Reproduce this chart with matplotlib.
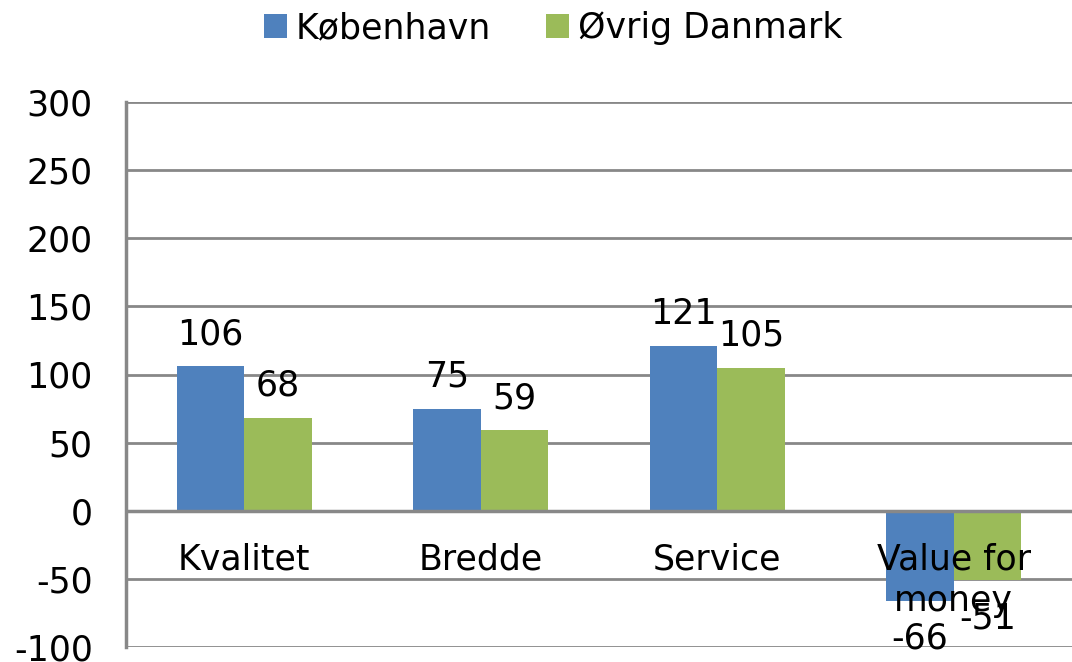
import numpy as np
import matplotlib.pyplot as plt
from matplotlib.ticker import FuncFormatter

categories = ["Kvalitet", "Bredde", "Service", "Value for\nmoney"]
kbh = [106, 75, 121, -66]
ovrig = [68, 59, 105, -51]
series_names = ["København", "Øvrig Danmark"]
colors = ["#4F81BD", "#9BBB59"]

plt.rcParams['font.family'] = ['DejaVu Sans']
fs = 25
fig = plt.figure(figsize=(10.72, 6.62), dpi=100)
ax = fig.add_axes([126 / 1072, 15 / 662, 946 / 1072, 545 / 662])

x = np.arange(len(categories))
w = 0.285
b1 = ax.bar(x - w / 2, kbh, w, color=colors[0], label=series_names[0], zorder=3)
b2 = ax.bar(x + w / 2, ovrig, w, color=colors[1], label=series_names[1], zorder=3)

for bars, vals in [(b1, kbh), (b2, ovrig)]:
    for rect, v in zip(bars, vals):
        cx = rect.get_x() + rect.get_width() / 2
        if v >= 0:
            ax.annotate(str(v), (cx, v), xytext=(0, 11), textcoords='offset points',
                        ha='center', va='bottom', fontsize=fs, zorder=5)
        else:
            ax.annotate(str(v), (cx, v), xytext=(0, -15), textcoords='offset points',
                        ha='center', va='top', fontsize=fs, zorder=5)

# category labels sit just below the zero line
for xi, c in zip(x, categories):
    ax.text(xi, -23, c, ha='center', va='top', fontsize=fs, linespacing=1.3, zorder=5)

ax.set_xlim(-0.5, len(categories) - 0.5)
ax.set_ylim(-100, 300)
ax.set_yticks(range(-100, 301, 50))
ax.yaxis.set_major_formatter(FuncFormatter(lambda v, p: "%d" % v))
ax.tick_params(axis='y', labelsize=fs, length=0, pad=24)
ax.set_xticks([])
ax.grid(axis='y', color='#888888', linewidth=2, zorder=0)
ax.axhline(0, color='#888888', linewidth=2.5, zorder=4)
for s in ['top', 'right', 'bottom']:
    ax.spines[s].set_visible(False)
ax.spines['left'].set_color('#888888')
ax.spines['left'].set_linewidth(2.5)

fig.legend(handles=[b1, b2], loc='upper center', bbox_to_anchor=(0.516, 1.03), ncol=2,
           frameon=False, fontsize=fs, handlelength=0.65, handleheight=0.7,
           handletextpad=0.25, columnspacing=1.6)

fig.savefig("out.png", dpi=100)
